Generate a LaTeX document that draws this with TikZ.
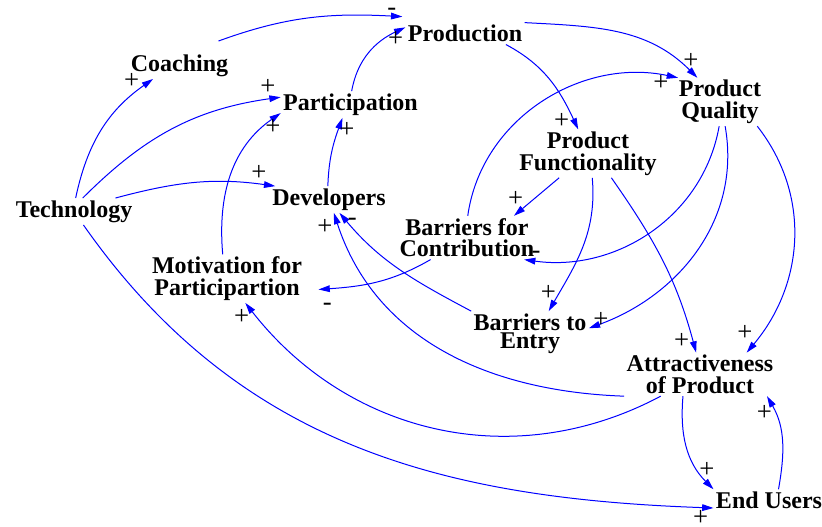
\documentclass[tikz,border=0pt]{standalone}
\usepackage{fontspec}
\setmainfont{Liberation Serif}
\usetikzlibrary{arrows.meta}
\tikzset{every picture/.style={line width=0.75pt}}
\tikzset{
  var/.style={font=\fontsize{18}{16.2}\selectfont\bfseries, align=center, inner sep=1.5pt},
  link/.style={draw={rgb, 255:red, 0; green, 0; blue, 255}, -{Triangle[length=8.5pt,width=5pt]}},
  polarity/.style={font=\fontsize{20}{20}\selectfont, inner sep=0pt}
}

\begin{document}
\begin{tikzpicture}[x=0.75pt,y=0.75pt,yscale=-1,xscale=1]
\useasboundingbox (0,0) rectangle (822,527);

% Text Node
\node[var] (tech) at (74,211.5) {Technology};
% Text Node
\node[var] (coach) at (179.5,65.5) {Coaching};
% Text Node
\node[var] (part) at (350.5,104.5) {Participation};
% Text Node
\node[var] (prod) at (465,33.6) {Production};
% Text Node
\node[var] (dev) at (329,199.5) {Developers};
% Text Node
\node[var] (pq) at (720,102) {Product\\Quality};
% Text Node
\node[var] (pf) at (588,153.6) {Product\\Functionality};
% Text Node
\node[var] (bfc) at (467,237.7) {Barriers for\\Contribution};
% Text Node
\node[var] (mot) at (227,278.6) {Motivation for\\Participartion};
% Text Node
\node[var, font=\fontsize{18}{13.3}\selectfont\bfseries] (bte) at (530,333.4) {Barriers to\\Entry};
% Text Node
\node[var] (atr) at (700,374.4) {Attractiveness\\of Product};
% Text Node
\node[var] (eu) at (769,500.2) {End Users};

% Connection
\draw[link] (tech.83) to[out=-78,in=-215] (coach.207);
% Connection
\draw[link] ([shift={(39,-11)}]coach.north) to[out=-20,in=-177] ([shift={(-3,-6)}]prod.north west);
% Connection
\draw[link] (part.85) to[out=-80,in=-205] (prod.174);
% Connection
\draw[link] (tech.57) to[out=-45,in=-188] (part.174);
% Connection
\draw[link] (mot.100) to[out=-95,in=-215] (part.187);
% Connection
\draw[link] (dev.95) to[out=-88,in=-250] (part.239);
% Connection
\draw[link] (tech.18) to[out=-15,in=-172] (dev.166);
% Connection
\draw[link] (prod.north east) to[out=3,in=-135] (pq.133);
% Connection
\draw[link] (prod.-15) to[out=28,in=-115] (pf.112);
% Connection
\draw[link] (bfc.88) to[out=-82,in=-168] (pq.150);
% Connection
\draw[link] (pf.220) -- (bfc.25);
% Connection
\draw[link] (pf.-80) to[out=85,in=-60] (bte.50);
% Connection
\draw[link] (pf.-46) to[out=55,in=-105] (atr.100);
% Connection
\draw[link] (pq.-92) to[out=100,in=8] (bfc.-21);
% Connection
\draw[link] (pq.-78) to[out=80,in=-20] (bte.5);
% Connection
\draw[link] (pq.-33) to[out=52,in=-50] (atr.25);
% Connection
\draw[link] (bfc.211) to[out=-210,in=-4] ([xshift=10.5pt]mot.-8);
% Connection
\draw[link] (bte.north west) to[out=-152,in=-310] (dev.-52);
% Connection
\draw[link] (atr.south west) to[out=-178,in=-288] (dev.-70);
% Connection
\draw[link] (atr.209) to[out=-208,in=-308] (mot.-53);
% Connection
\draw[link] (atr.232) to[out=95,in=-135] (eu.north west);
% Connection
\draw[link] (eu.49) to[out=-80,in=60] (atr.-18);
% Connection
\draw[link] (tech.-55) to[out=55,in=-178] (eu.188);

% Polarity signs
\foreach \px/\py/\sg [count=\i] in {131.7/80.7/+, 391.7/12/-, 395.7/39.3/+, 268/87/+,
  273/127/+, 347/130/+, 259/173/+, 691/61/+, 561.7/120.7/+, 661/82.7/+, 515.7/199.3/+,
  548.3/293.3/+, 681.7/340.7/+, 536/255/-, 601/320/+, 745/333.3/+, 327.3/307/-,
  352.3/222.3/-, 325/226.7/+, 241.7/317.3/+, 707/470/+, 764.3/412.7/+, 700.7/518.3/+}
  \node[polarity] (sg\i) at (\px,\py) {\sg};

\end{tikzpicture}
\end{document}
